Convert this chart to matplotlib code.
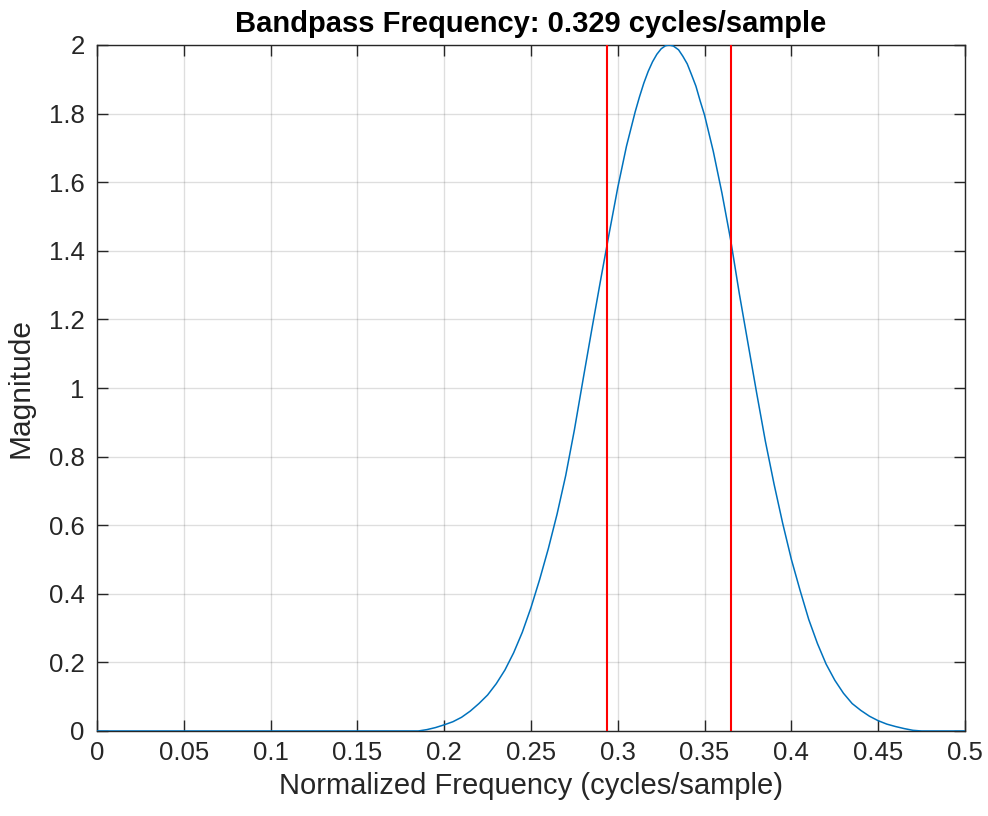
import matplotlib
matplotlib.use("Agg")
import matplotlib.pyplot as plt

plt.rcParams['font.family'] = ['Liberation Sans', 'DejaVu Sans']

# Frequency samples (cycles/sample) and magnitude
freq = [0.0, 0.185, 0.190, 0.195, 0.200, 0.205, 0.210, 0.215, 0.220, 0.225,
        0.230, 0.235, 0.240, 0.245, 0.250, 0.255, 0.260, 0.265, 0.270, 0.275,
        0.280, 0.285, 0.290, 0.295, 0.300, 0.305, 0.310, 0.3125, 0.315, 0.3175,
        0.320, 0.3225, 0.325, 0.3275, 0.3296, 0.332, 0.335, 0.3375, 0.340, 0.3425,
        0.345, 0.3475, 0.350, 0.355, 0.360, 0.365, 0.370, 0.375,
        0.380, 0.385, 0.390, 0.395, 0.400, 0.405, 0.410, 0.415, 0.420, 0.425,
        0.430, 0.435, 0.440, 0.445, 0.450, 0.455, 0.460, 0.465, 0.470, 0.475,
        0.5]
magnitude = [0.0, 0.000, 0.004, 0.010, 0.018, 0.027, 0.040, 0.058, 0.080, 0.105,
             0.138, 0.178, 0.228, 0.288, 0.360, 0.442, 0.532, 0.632, 0.745, 0.878,
             1.025, 1.170, 1.312, 1.450, 1.585, 1.705, 1.805, 1.849, 1.889, 1.923,
             1.951, 1.973, 1.989, 1.998, 2.000, 1.997, 1.986, 1.967, 1.945, 1.913,
             1.880, 1.836, 1.795, 1.690, 1.568, 1.432, 1.275, 1.130,
             0.985, 0.845, 0.720, 0.605, 0.500, 0.410, 0.325, 0.255, 0.195, 0.148,
             0.110, 0.080, 0.060, 0.043, 0.030, 0.020, 0.013, 0.007, 0.002, 0.000,
             0.0]

# Band edges (red markers)
band_edges = [0.2935, 0.3652]
center_freq = 0.329

xticks = [0, 0.05, 0.1, 0.15, 0.2, 0.25, 0.3, 0.35, 0.4, 0.45, 0.5]
xtick_labels = ["0", "0.05", "0.1", "0.15", "0.2", "0.25", "0.3", "0.35", "0.4", "0.45", "0.5"]
yticks = [0, 0.2, 0.4, 0.6, 0.8, 1.0, 1.2, 1.4, 1.6, 1.8, 2.0]
ytick_labels = ["0", "0.2", "0.4", "0.6", "0.8", "1", "1.2", "1.4", "1.6", "1.8", "2"]

fig = plt.figure(figsize=(9.88, 8.16), dpi=100)
ax = fig.add_axes([97/988, 1 - 731/816, (965 - 97)/988, (731 - 45)/816])

ax.plot(freq, magnitude, color='#0072BD', linewidth=1.1, zorder=3)
for e in band_edges:
    ax.axvline(e, color='#FF0000', linewidth=1.5, zorder=4)

ax.set_xlim(0, 0.5)
ax.set_ylim(0, 2)
ax.set_xticks(xticks)
ax.set_xticklabels(xtick_labels)
ax.set_yticks(yticks)
ax.set_yticklabels(ytick_labels)

axc = '#262626'
ax.grid(True, color='#262626', alpha=0.15, linewidth=1.0)
ax.set_axisbelow(True)
for s in ax.spines.values():
    s.set_color(axc)
    s.set_linewidth(1.0)
ax.tick_params(direction='in', length=8, width=1.0, color=axc, labelcolor=axc,
               labelsize=18.5, top=True, right=True)
ax.tick_params(axis='x', pad=7)
ax.tick_params(axis='y', pad=9)

ax.set_xlabel("Normalized Frequency (cycles/sample)", fontsize=21, color=axc, labelpad=5)
ax.set_ylabel("Magnitude", fontsize=21.5, color=axc, labelpad=10)
ax.set_title(f"Bandpass Frequency: {center_freq} cycles/sample", fontsize=21,
             fontweight='bold', color='black', pad=9)

fig.savefig("out.png", dpi=100, facecolor='white')
